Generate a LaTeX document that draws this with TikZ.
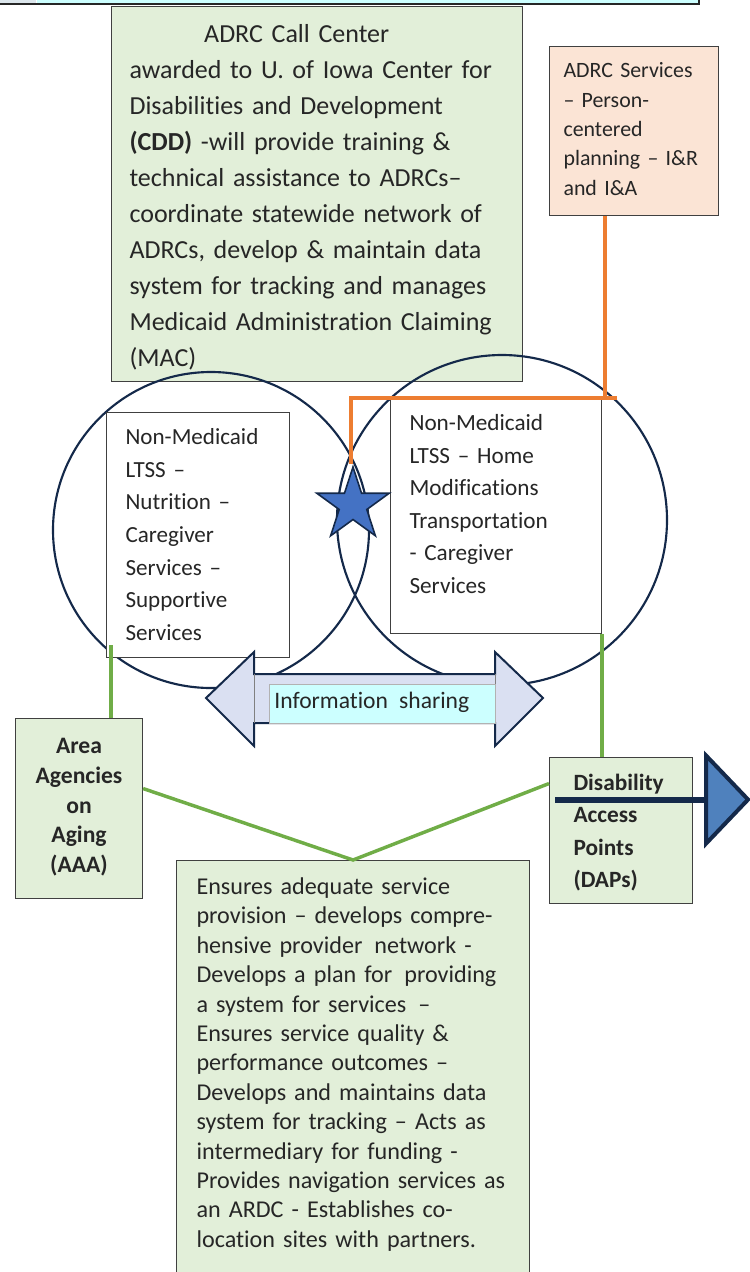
\documentclass[tikz,border=0pt]{standalone}
\usepackage{fontspec}
\setmainfont{Carlito}[Ligatures={TeX,NoCommon}]
\usetikzlibrary{shapes.geometric,positioning,calc}
\definecolor{boxgreen}{HTML}{E2EFD9}
\definecolor{boxpeach}{HTML}{FBE4D5}
\definecolor{boxline}{HTML}{404040}
\definecolor{navy}{HTML}{14294A}
\definecolor{txt}{HTML}{262626}
\definecolor{lavender}{HTML}{DAE0F2}
\definecolor{paleaqua}{HTML}{CCFFFF}
\definecolor{starblue}{HTML}{4472C4}
\definecolor{arrowblue}{HTML}{4F81BD}
\definecolor{linkorange}{HTML}{ED7D31}
\definecolor{linkgreen}{HTML}{70AD47}
\definecolor{tabgrey}{HTML}{DCE6EC}
\tikzset{
  panel/.style={draw=boxline, line width=0.8pt, anchor=north west, inner ysep=0pt, align=left, text=txt},
  venn/.style={circle, draw=navy, line width=1.6pt, inner sep=0pt},
  greenlink/.style={draw=linkgreen, line width=2.6pt},
  orangelink/.style={draw=linkorange, line width=2.8pt}
}

\begin{document}
\begin{tikzpicture}[x=0.75pt, y=-0.75pt]
  \useasboundingbox (0,0) rectangle (750,1272);
  \fill[tabgrey] (0,-10) rectangle (36,4);
  \fill[paleaqua] (37,-10) rectangle (699,4);
  \draw[black!85, line width=1pt] (0,4) -- (699,4) -- (699,-10);

  \node[panel, fill=boxgreen, inner xsep=13.5pt, text width=281.25pt, text height=27pt, text depth=254.25pt,
        font=\fontsize{19.5pt}{27pt}\selectfont] (cdd) at (111,6)
    {\hspace*{56pt}ADRC Call Center\\
     awarded to U. of Iowa Center for\\
     Disabilities and Development\\
     \textbf{(CDD)} -will provide training \&\\
     technical assistance to ADRCs–\\
     coordinate statewide network of\\
     ADRCs, develop \& maintain data\\
     system for tracking and manages\\
     Medicaid Administration Claiming\\
     (MAC)};
  \node[panel, fill=boxpeach, inner xsep=10.5pt, text width=105.75pt, text height=23.25pt, text depth=103.5pt,
        font=\fontsize{16.4pt}{22.1pt}\selectfont] (svc) at (549,46)
    {ADRC Services\\ – Person-\\ centered\\ planning – I\&R\\ and I\&A};

  \node[venn, minimum size=237pt] (lcirc) at (211,530) {};
  \node[venn, minimum size=247.5pt] (rcirc) at (502,520) {};

  \node[panel, fill=white, inner xsep=14.25pt, text width=108.75pt, text height=24pt, text depth=159.75pt,
        font=\fontsize{17.3pt}{24.5pt}\selectfont] (lbox) at (106,412)
    {Non-Medicaid\\ LTSS –\\ Nutrition –\\ Caregiver\\ Services –\\ Supportive\\ Services};
  \node[panel, fill=white, inner xsep=14.25pt, text width=129.75pt, text height=24pt, text depth=152.25pt,
        font=\fontsize{17.4pt}{24.45pt}\selectfont] (rbox) at (390,398)
    {Non-Medicaid\\ LTSS – Home\\ Modifications\\ Transportation\\ - Caregiver\\ Services};

  \node[star, star points=5, star point ratio=2.618, minimum size=57pt, inner sep=0pt,
        fill=starblue, draw=navy, line width=1.2pt] (star) at (353,505) {};
  \draw[orangelink] ([xshift=42pt]svc.south west) coordinate (o1) -- (o1 |- rbox.north);
  \draw[orangelink] ([xshift=9pt]o1 |- rbox.north) -| ([xshift=-1.5pt]star.north);

  \draw[navy, line width=1.5pt, fill=lavender, line join=miter]
    (206,698) -- (254,652) -- (254,674) -- (495,674) -- (495,652) -- (543,698)
    -- (495,746) -- (495,723) -- (254,723) -- (254,746) -- cycle;
  \draw[gray, line width=0.5pt] (254,674) -- (254,723) (495,674) -- (495,723);
  \node[panel, draw=gray!60, line width=0.5pt, fill=paleaqua, inner xsep=3.75pt, text width=162pt,
        text height=18pt, text depth=11.25pt, font=\fontsize{17.7pt}{21pt}\selectfont] (share) at (269,684)
    {Information\hspace{2.5pt} sharing};

  \node[panel, fill=boxgreen, align=center, inner xsep=6pt, text width=83.25pt, text height=26.25pt,
        text depth=108.75pt, font=\fontsize{17.7pt}{22.3pt}\selectfont\bfseries] (aaa) at (15,718)
    {Area\\ Agencies\\ on\\ Aging\\ (AAA)};
  \node[panel, fill=boxgreen, inner xsep=18pt, text width=71.25pt, text height=24.75pt, text depth=84.75pt,
        font=\fontsize{17.5pt}{24.25pt}\selectfont\bfseries] (dap) at (549,757)
    {Disability\\ Access\\ Points\\ (DAPs)};
  \node[panel, fill=boxgreen, inner xsep=15pt, text width=234.75pt, text height=25.5pt, text depth=293.25pt,
        font=\fontsize{18.1pt}{22.05pt}\selectfont] (duty) at (176,860)
    {Ensures adequate service\\
     provision – develops compre-\\
     hensive provider\hspace{3pt} network -\\
     Develops a plan for\hspace{3pt} providing\\
     a system for services\hspace{3pt} –\\
     Ensures service quality \&\\
     performance outcomes –\\
     Develops and maintains data\\
     system for tracking – Acts as\\
     intermediary for funding -\\
     Provides navigation services as\\
     an ARDC - Establishes co-\\
     location sites with partners.};

  \draw[greenlink] ([shift={(5,-13)}]lbox.south west) coordinate (g1) -- (g1 |- aaa.north);
  \draw[greenlink] (rbox.south east) -- (rbox.south east |- dap.north);
  \draw[greenlink] ([yshift=15pt]aaa.east) -- (duty.north) -- ([yshift=35.25pt]dap.west);

  \draw[navy, line width=4.5pt] ([shift={(6,-31)}]dap.west) -- ([shift={(13,-31)}]dap.east) coordinate (tb);
  \draw[navy, line width=3pt, fill=arrowblue, line join=miter] (tb) ++(0,-44) -- ++(42,44) -- ++(-42,44) -- cycle;
\end{tikzpicture}
\end{document}
